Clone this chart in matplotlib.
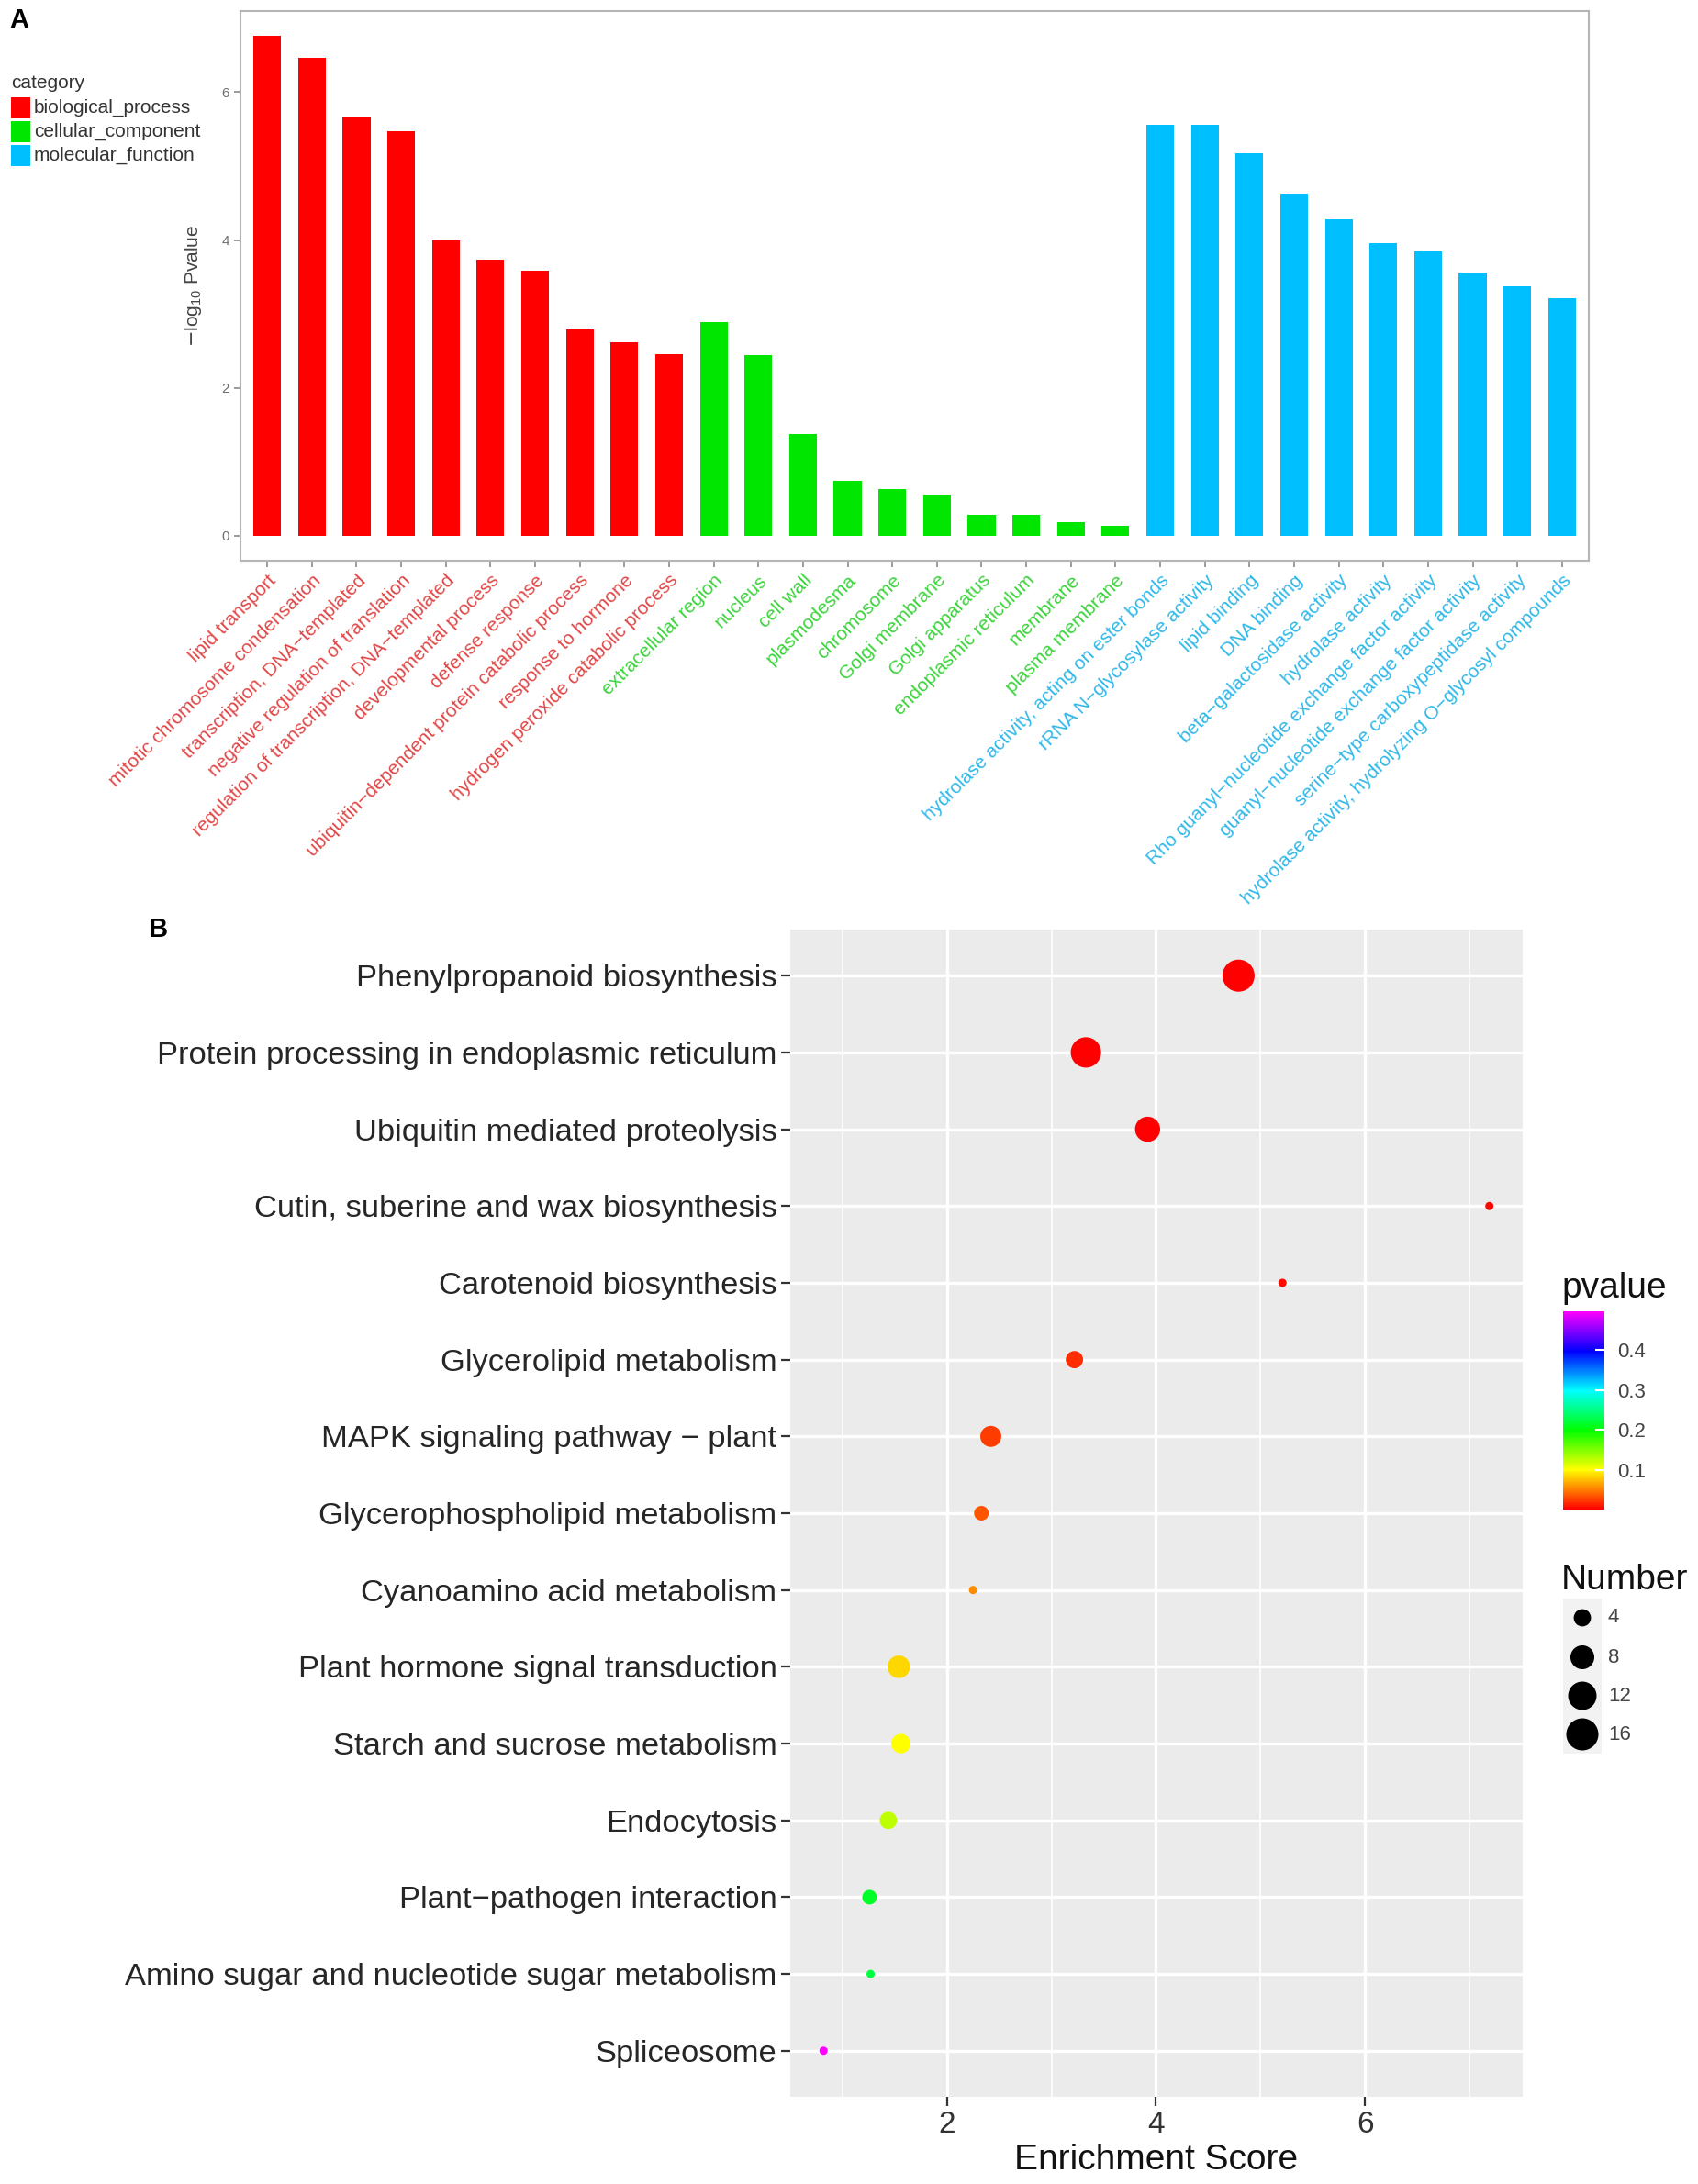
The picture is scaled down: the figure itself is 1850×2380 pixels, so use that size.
import numpy as np
import matplotlib as mpl
mpl.use('Agg')
import matplotlib.pyplot as plt
from matplotlib.colors import LinearSegmentedColormap, Normalize, hsv_to_rgb
from matplotlib.patches import Rectangle

plt.rcParams['font.family'] = ['Liberation Sans', 'DejaVu Sans']

# ---- panel A: GO enrichment ----
bp_terms = ['lipid transport', 'mitotic chromosome condensation',
            'transcription, DNA\u2212templated', 'negative regulation of translation',
            'regulation of transcription, DNA\u2212templated', 'developmental process',
            'defense response', 'ubiquitin\u2212dependent protein catabolic process',
            'response to hormone', 'hydrogen peroxide catabolic process']
bp_vals = [6.76, 6.47, 5.66, 5.47, 4.00, 3.73, 3.58, 2.79, 2.62, 2.46]
cc_terms = ['extracellular region', 'nucleus', 'cell wall', 'plasmodesma', 'chromosome',
            'Golgi membrane', 'Golgi apparatus', 'endoplasmic reticulum', 'membrane',
            'plasma membrane']
cc_vals = [2.89, 2.44, 1.37, 0.74, 0.63, 0.56, 0.28, 0.28, 0.18, 0.13]
mf_terms = ['hydrolase activity, acting on ester bonds', 'rRNA N\u2212glycosylase activity',
            'lipid binding', 'DNA binding', 'beta\u2212galactosidase activity',
            'hydrolase activity', 'Rho guanyl\u2212nucleotide exchange factor activity',
            'guanyl\u2212nucleotide exchange factor activity',
            'serine\u2212type carboxypeptidase activity',
            'hydrolase activity, hydrolyzing O\u2212glycosyl compounds']
mf_vals = [5.56, 5.56, 5.18, 4.63, 4.28, 3.96, 3.85, 3.56, 3.37, 3.21]

categories = ['biological_process', 'cellular_component', 'molecular_function']
bar_colors = ['#FF0000', '#00E600', '#00BFFF']
label_colors = ['#E04848', '#3CD43C', '#30B8E8']

# ---- panel B: KEGG enrichment ----
kegg_terms = ['Phenylpropanoid biosynthesis', 'Protein processing in endoplasmic reticulum',
              'Ubiquitin mediated proteolysis', 'Cutin, suberine and wax biosynthesis',
              'Carotenoid biosynthesis', 'Glycerolipid metabolism',
              'MAPK signaling pathway \u2212 plant', 'Glycerophospholipid metabolism',
              'Cyanoamino acid metabolism', 'Plant hormone signal transduction',
              'Starch and sucrose metabolism', 'Endocytosis',
              'Plant\u2212pathogen interaction',
              'Amino sugar and nucleotide sugar metabolism', 'Spliceosome']
enrich = [4.79, 3.33, 3.92, 7.19, 5.21, 3.22, 2.42, 2.33, 2.25, 1.54, 1.56, 1.44, 1.26, 1.27, 0.82]
number = [16, 14, 9, 2, 2, 4, 6, 3, 2, 7, 5, 4, 3, 2, 2]
pvalue = [0.0002, 0.001, 0.002, 0.004, 0.006, 0.018, 0.025, 0.035, 0.055,
          0.085, 0.10, 0.125, 0.215, 0.225, 0.497]
size_breaks = [4, 8, 12, 16]
p_breaks = [0.1, 0.2, 0.3, 0.4]

W, H = 1850, 2380
fig = plt.figure(figsize=(W / 100, H / 100), dpi=100)


def fbox(x0, y0, x1, y1):
    # pixel box (top-left origin) -> figure fraction rect
    return [x0 / W, 1 - y1 / H, (x1 - x0) / W, (y1 - y0) / H]


# ================= panel A =================
axA = fig.add_axes(fbox(262, 12, 1731, 611))
groups = [(bp_terms, bp_vals), (cc_terms, cc_vals), (mf_terms, mf_vals)]
terms_all, xpos = [], 0
for gi, (terms, vals) in enumerate(groups):
    xs = np.arange(xpos, xpos + len(terms))
    axA.bar(xs, vals, width=0.62, color=bar_colors[gi], linewidth=0)
    terms_all += [(t, label_colors[gi]) for t in terms]
    xpos += len(terms)

ymax = max(bp_vals + cc_vals + mf_vals)
axA.set_xlim(-0.6, xpos - 1 + 0.6)
axA.set_ylim(-0.05 * ymax, ymax * 1.05)
axA.set_yticks([0, 2, 4, 6])
axA.tick_params(axis='both', color='#8A8A8A', length=5, width=1.2)
axA.tick_params(axis='y', labelsize=11, labelcolor='#6E6E6E')
axA.set_xticks(np.arange(xpos))
axA.set_xticklabels([t for t, c in terms_all], rotation=45, ha='right', va='top',
                    rotation_mode='anchor', fontsize=15)
for lbl, (t, c) in zip(axA.get_xticklabels(), terms_all):
    lbl.set_color(c)
for sp in axA.spines.values():
    sp.set_color('#B5B5B5')
    sp.set_linewidth(1.5)
axA.set_ylabel(r'$-\mathregular{log_{10}}$ Pvalue', fontsize=15, color='#444444', labelpad=14)

# category legend
fig.text(12 / W, 1 - 91 / H, 'category', fontsize=15, color='#333333', va='center')
for i, cat in enumerate(categories):
    yc = 117 + 26 * i
    fig.patches.append(Rectangle((12 / W, 1 - (yc + 11.5) / H), 21 / W, 23 / H,
                                 transform=fig.transFigure, facecolor=bar_colors[i],
                                 edgecolor='none'))
    fig.text(37 / W, 1 - yc / H, cat, fontsize=15, color='#333333', va='center')

fig.text(10 / W, 1 - 22 / H, 'A', fontsize=21, fontweight='bold', va='center')

# ================= panel B =================
hues = [0, 60, 120, 180, 240, 300]
cmap = LinearSegmentedColormap.from_list(
    'rb', [hsv_to_rgb((h / 360, 1, 1)) for h in hues])
norm = Normalize(vmin=min(pvalue), vmax=max(pvalue))

nmin, nmax = 2, 16


def marker_area(n):
    d_px = 9 + 26 * np.sqrt((np.asarray(n, float) - nmin) / (nmax - nmin))
    return (d_px * 72 / 100) ** 2


axB = fig.add_axes(fbox(861, 1013, 1659, 2285))
axB.set_facecolor('#EBEBEB')
ys = np.arange(len(kegg_terms))
axB.scatter(enrich, ys, s=marker_area(number), c=pvalue, cmap=cmap, norm=norm,
            linewidths=0, zorder=3)
span = max(enrich) - min(enrich)
axB.set_xlim(min(enrich) - 0.05 * span, max(enrich) + 0.05 * span)
axB.set_ylim(len(kegg_terms) - 1 + 0.6, -0.6)
axB.set_yticks(ys)
axB.set_yticklabels(kegg_terms, fontsize=24.8, color='#262626')
axB.set_xticks([2, 4, 6])
axB.set_xticks([1, 3, 5, 7], minor=True)
axB.tick_params(axis='x', labelsize=24, labelcolor='#222222')
axB.tick_params(which='major', colors='#333333', length=7, width=1.6)
axB.tick_params(axis='y', labelcolor='#262626')
axB.tick_params(which='minor', length=0)
axB.grid(which='major', color='white', linewidth=2.4, zorder=0)
axB.grid(which='minor', axis='x', color='white', linewidth=1.2, zorder=0)
axB.set_axisbelow(True)
for sp in axB.spines.values():
    sp.set_visible(False)
axB.set_xlabel('Enrichment Score', fontsize=28, color='#111111', labelpad=4)

fig.text(162 / W, 1 - 1013 / H, 'B', fontsize=21, fontweight='bold', va='center')

# pvalue colourbar
fig.text(1701 / W, 1 - 1404 / H, 'pvalue', fontsize=28, color='#111111', va='center')
cax = fig.add_axes(fbox(1703, 1429, 1748, 1645))
cb = fig.colorbar(mpl.cm.ScalarMappable(norm=norm, cmap=cmap), cax=cax)
cb.outline.set_visible(False)
cb.set_ticks(p_breaks)
cb.set_ticklabels([str(b) for b in p_breaks])
cax.tick_params(length=7, width=1.5, color='white', direction='in',
                labelsize=16, labelcolor='#444444', pad=10)

# size legend
fig.text(1701 / W, 1 - 1722 / H, 'Number', fontsize=28, color='#111111', va='center')
lax = fig.add_axes(fbox(1703, 1742, 1745, 1911))
lax.set_facecolor('#F2F2F2')
lax.set_xlim(0, 42)
lax.set_ylim(1911, 1742)
key_y = [1763, 1806, 1848, 1890]
lax.scatter([21] * len(size_breaks), key_y, s=marker_area(size_breaks), color='black',
            linewidths=0)
lax.set_xticks([])
lax.set_yticks([])
for sp in lax.spines.values():
    sp.set_visible(False)
for b, y in zip(size_breaks, key_y):
    fig.text(1752 / W, 1 - y / H, str(b), fontsize=16, color='#444444', va='center')

fig.savefig('out.png', dpi=100, facecolor='white')
